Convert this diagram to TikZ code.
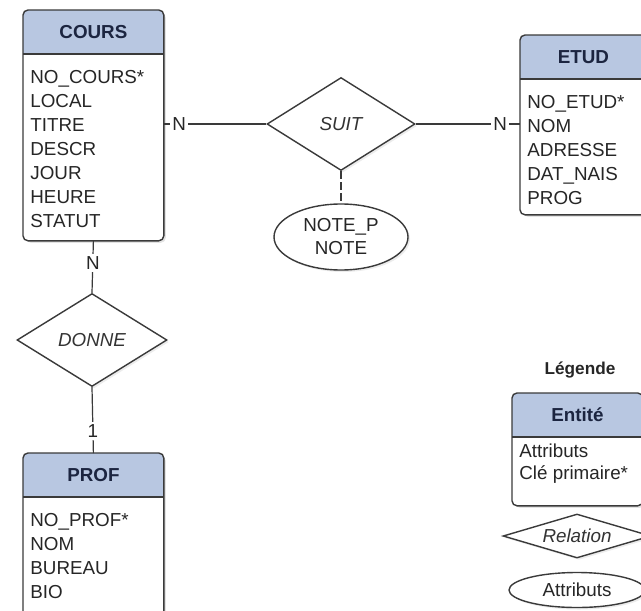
\documentclass[tikz,border=0pt]{standalone}
\usepackage{fontspec}
\setsansfont{Liberation Sans}
\usetikzlibrary{shapes.geometric, shadows, calc, positioning}
\definecolor{hdrblue}{HTML}{B8C7E1}
\definecolor{cadregris}{HTML}{3A3A3A}
\definecolor{titrebleu}{HTML}{1C2540}
\tikzset{
  % fond d'une entite (avec ombre)
  boite/.style={anchor=north west, fill=white, rounded corners=2.5pt, inner sep=0pt,
    drop shadow={opacity=0.22, shadow xshift=1.2pt, shadow yshift=-1.2pt}},
  cadre/.style={draw=cadregris, line width=0.7pt, rounded corners=2.5pt},
  trait/.style={draw=cadregris, line width=0.7pt},
  % titre et attributs d'une entite
  titre/.style={font=\fontsize{9.4}{11}\selectfont\sffamily\bfseries, text=titrebleu, inner sep=0pt},
  attr/.style={anchor=north west, align=left, inner sep=0pt,
    font=\fontsize{9.4}{12}\selectfont\sffamily, text=black!85},
  attr legende/.style={font=\fontsize{9.4}{11}\selectfont\sffamily},
  % relation
  losange/.style={diamond, aspect=1.6, inner sep=0pt, draw=cadregris, line width=0.7pt, fill=white,
    font=\fontsize{9.4}{11}\selectfont\sffamily\itshape, text=black!80,
    drop shadow={opacity=0.15, shadow xshift=1pt, shadow yshift=-1pt}},
  % attributs d'une relation
  ovale/.style={ellipse, inner sep=0pt, draw=cadregris, line width=0.7pt, fill=white, align=center,
    font=\fontsize{9.4}{11.5}\selectfont\sffamily, text=black!85,
    drop shadow={opacity=0.15, shadow xshift=1pt, shadow yshift=-1pt}},
  % liens et cardinalites
  lien/.style={draw=cadregris, line width=0.6pt},
  card/.style={fill=white, inner sep=1.2pt, font=\fontsize{9.4}{11}\selectfont\sffamily, text=black!85},
  legende/.style={font=\fontsize{8.6}{10}\selectfont\sffamily\bfseries, text=black!85},
}
% entite : [options attributs]{nom}{position}{largeur}{hauteur}{titre}{attributs}
\newcommand{\entite}[7][]{%
  \node[boite, minimum width=#4, minimum height=#5] (#2) at (#3) {};
  \begin{scope}
    \clip[rounded corners=2.5pt] (#2.north west) rectangle (#2.south east);
    \fill[hdrblue] (#2.north west) rectangle ([yshift=-22pt]#2.north east);
  \end{scope}
  \draw[cadre] (#2.north west) rectangle (#2.south east);
  \draw[trait] ([yshift=-22pt]#2.north west) -- ([yshift=-22pt]#2.north east);
  \node[titre] (#2-titre) at ([yshift=-11pt]#2.north) {#6};
  \node[attr, #1] (#2-attr) at ([xshift=3.5pt, yshift=-30pt]#2.north west) {#7};
}

\begin{document}
\begin{tikzpicture}[x=0.5pt, y=-0.5pt]
  \useasboundingbox (0,0) rectangle (641,610);
  % entites
  \entite{cours}{23,10}{70pt}{115pt}{COURS}{NO\_COURS*\\LOCAL\\TITRE\\DESCR\\JOUR\\HEURE\\STATUT}
  \entite{etud}{520,35}{63pt}{89.5pt}{ETUD}{NO\_ETUD*\\NOM\\ADRESSE\\DAT\_NAIS\\PROG}
  \entite{prof}{23,453}{70pt}{90pt}{PROF}{NO\_PROF*\\NOM\\BUREAU\\BIO}
  % relations
  \node[losange, minimum width=74pt, minimum height=46.5pt] (suit) at (341,124) {SUIT};
  \node[losange, minimum width=75pt, minimum height=46.5pt] (donne) at (92,340) {DONNE};
  \node[ovale, minimum width=67pt, minimum height=33pt] (note) at (341,237) {NOTE\_P\\NOTE};
  % liens
  \draw[lien] (cours.east |- suit.west) -- (suit.west) node[card, pos=0.15] {N};
  \draw[lien] (suit.east) -- (suit.east -| etud.west) node[card, pos=0.81] {N};
  \draw[lien, dash pattern=on 4pt off 1.5pt] (suit.south) -- (note.north);
  \draw[lien] (cours.south) -- (donne.north) node[card, pos=0.43] {N};
  \draw[lien] (donne.south) -- (prof.north) node[card, pos=0.66] {1};
  % legende
  \node[legende] (leg) at (580,370) {Légende};
  \entite[attr legende, yshift=5pt]{legent}{512,393}{65pt}{56pt}{Entité}{Attributs\\Clé primaire*}
  \node[losange, aspect=3.4, minimum width=74pt, minimum height=22pt] (legrel) at (577,536) {Relation};
  \node[ovale, minimum width=68pt, minimum height=17.5pt] (legatt) at (577,590) {Attributs};
\end{tikzpicture}
\end{document}
